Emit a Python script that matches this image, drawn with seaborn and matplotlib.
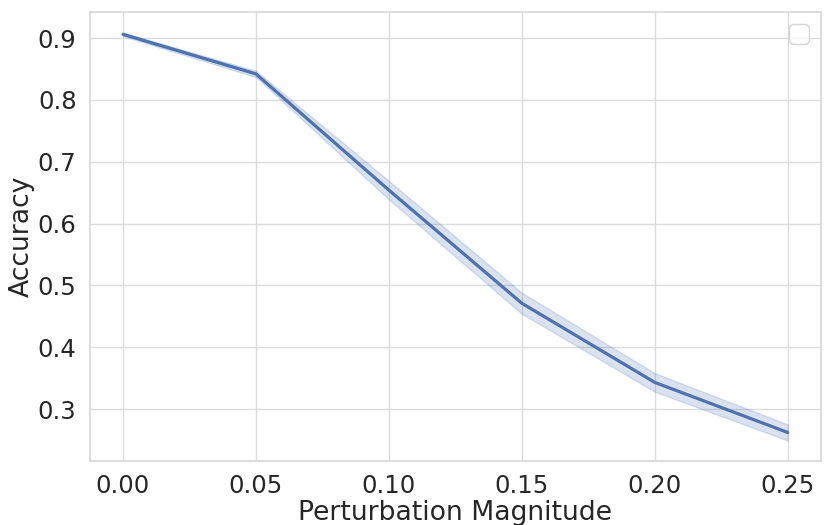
import numpy as np
import pandas as pd
import matplotlib
matplotlib.use("Agg")
import matplotlib.pyplot as plt
import seaborn as sns

# Accuracy over three runs per perturbation magnitude
magnitudes = [0.00, 0.05, 0.10, 0.15, 0.20, 0.25]
run_1 = [0.903, 0.837, 0.639, 0.454, 0.328, 0.249]
run_2 = [0.906, 0.842, 0.654, 0.471, 0.343, 0.262]
run_3 = [0.909, 0.847, 0.669, 0.488, 0.358, 0.275]

df = pd.DataFrame({
    "Perturbation Magnitude": magnitudes * 3,
    "Accuracy": run_1 + run_2 + run_3,
})

sns.set(style="whitegrid", font_scale=1.6,
        rc={"grid.color": "#dcdcdc", "axes.edgecolor": "#d8d8d8"})
fig, ax = plt.subplots(figsize=(8.31, 5.25), dpi=100)
sns.lineplot(data=df, x="Perturbation Magnitude", y="Accuracy",
             errorbar="sd", linewidth=2.3, ax=ax)
ax.set_xticks(magnitudes)
ax.set_xticklabels([f"{m:.2f}" for m in magnitudes])
ax.set_xlabel("Perturbation Magnitude", labelpad=1)
ax.set_ylabel("Accuracy", labelpad=2)
ax.legend(loc="upper right")
plt.subplots_adjust(left=0.108, right=0.988, top=0.977, bottom=0.122)
plt.savefig("out.png", dpi=100)
